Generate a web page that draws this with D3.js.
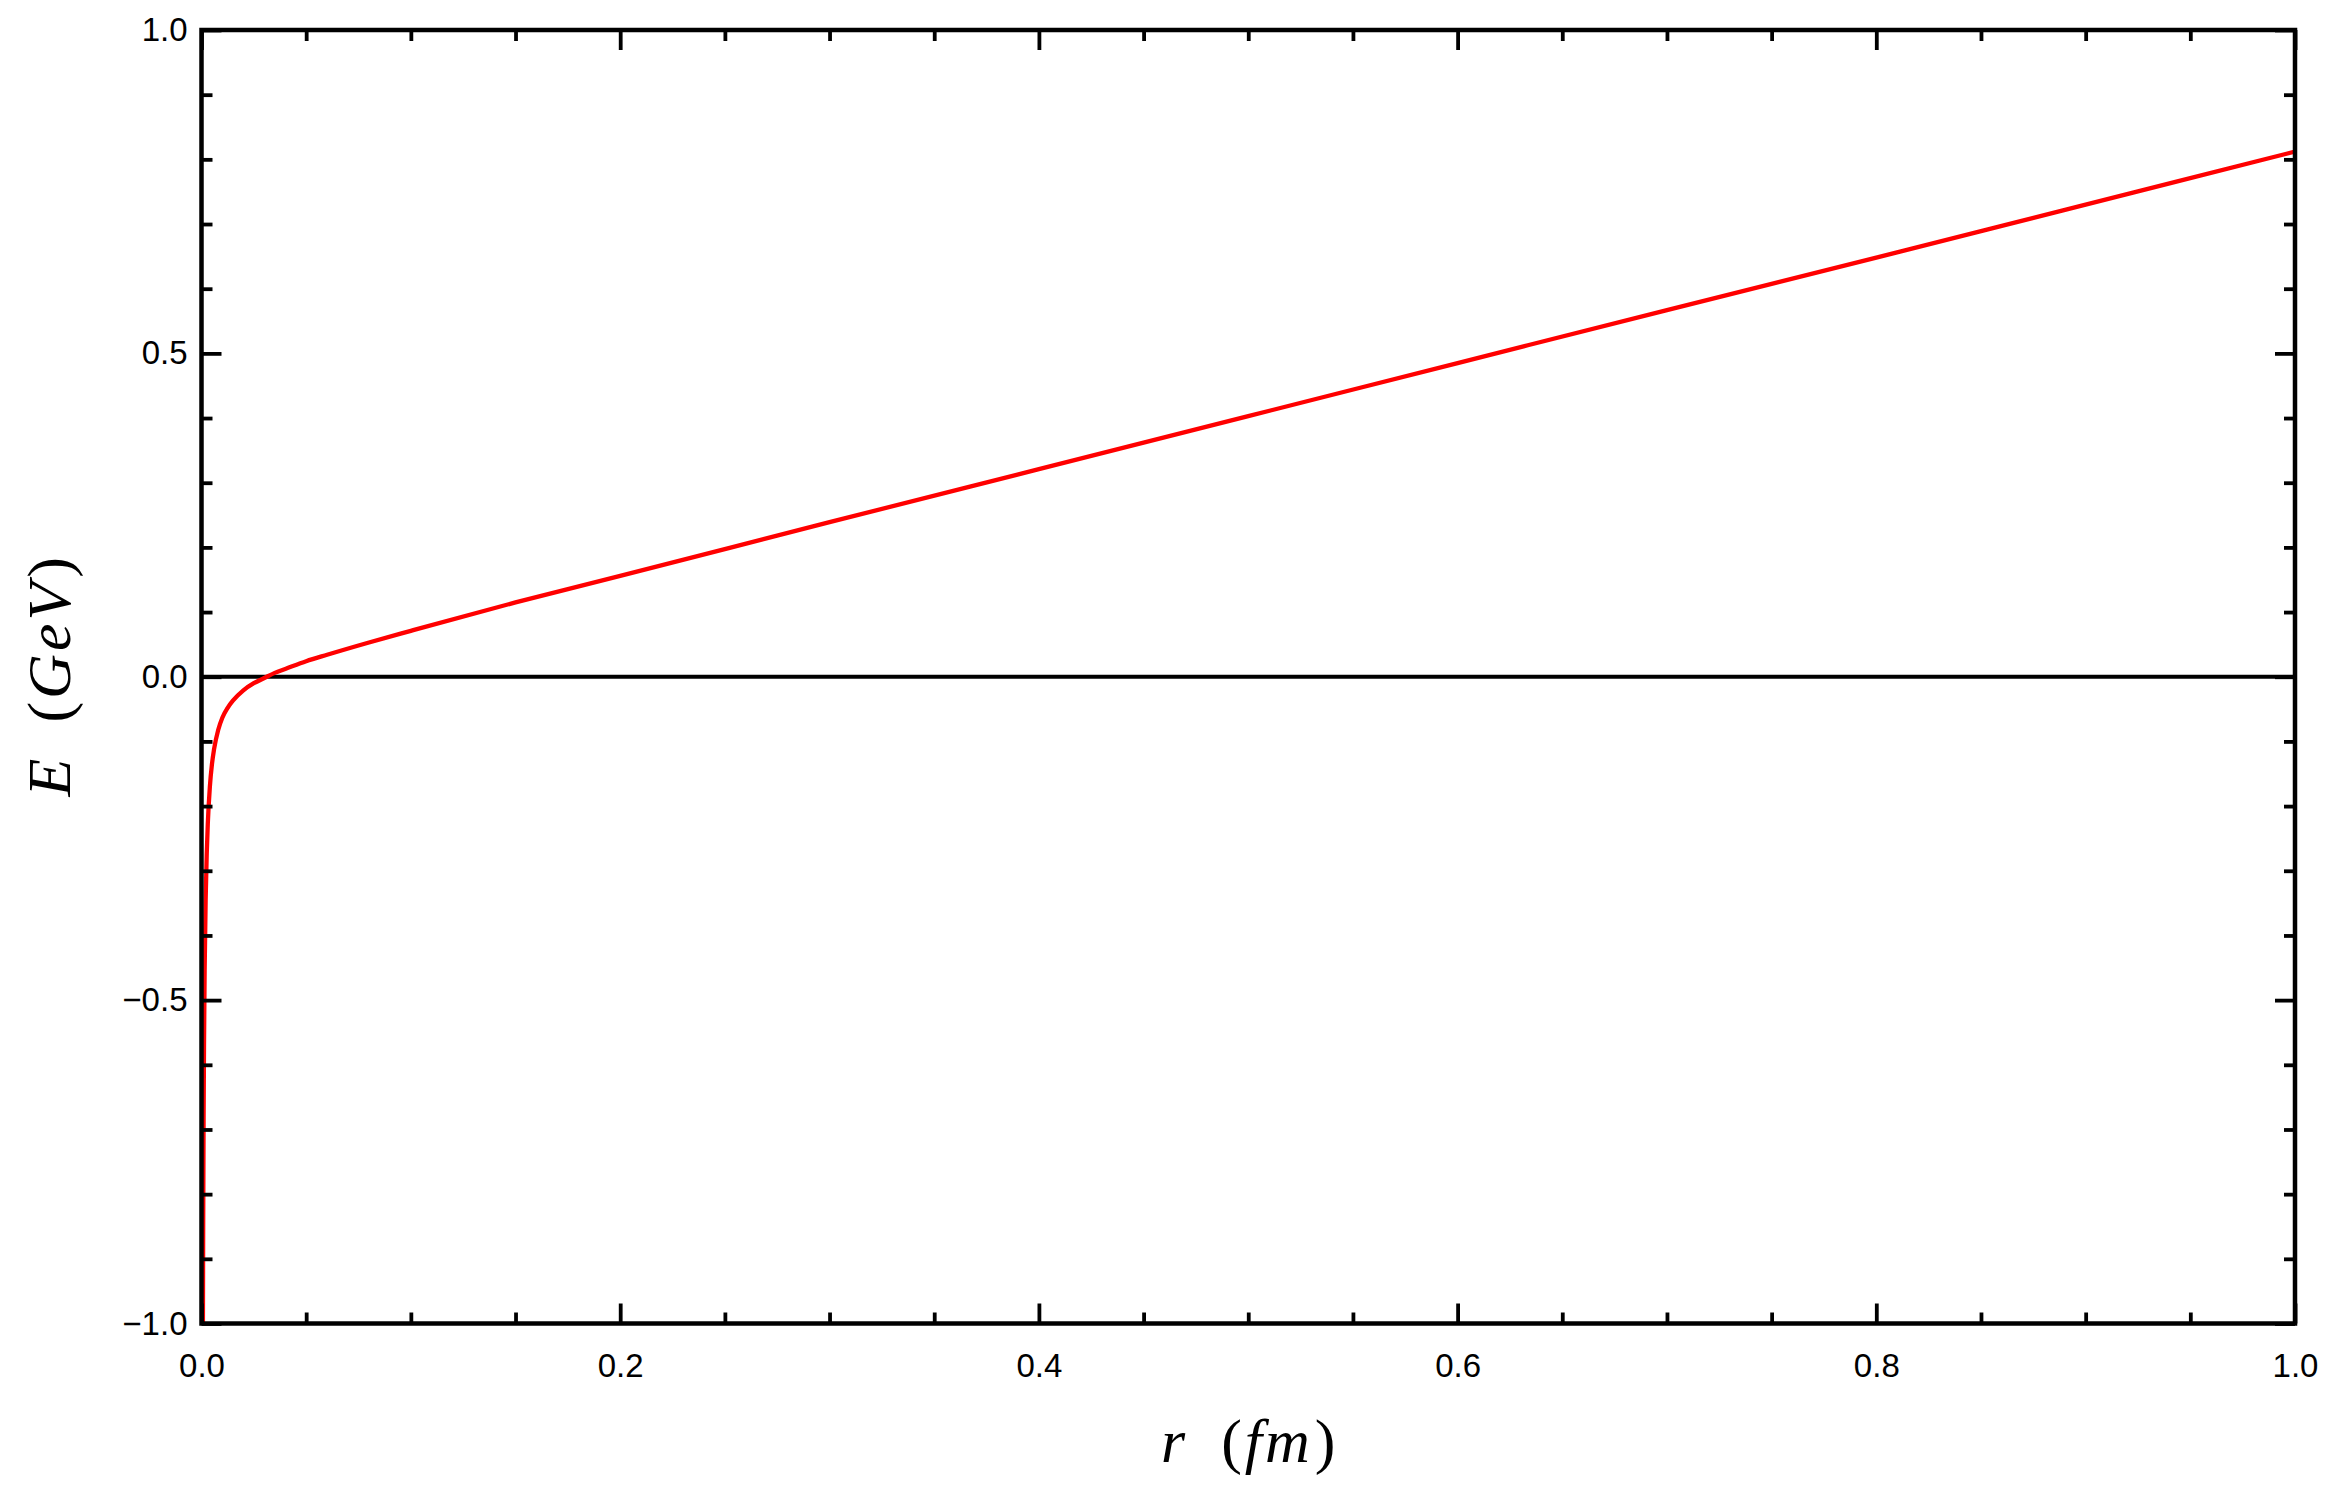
<!DOCTYPE html>
<html>
<head>
<meta charset="utf-8">
<script src="https://cdn.jsdelivr.net/npm/d3@7"></script>
<style>
  html, body { margin: 0; padding: 0; background: #fff; }
  svg { display: block; }
</style>
</head>
<body>
<svg id="chart" width="2331" height="1494"></svg>
<script>
// ---- data ----
const rValues = [0.00068, 0.0008, 0.001, 0.0012, 0.0015, 0.002, 0.0025, 0.003, 0.004, 0.005,
                 0.006, 0.008, 0.010, 0.0125, 0.015, 0.02, 0.025, 0.03, 0.035, 0.04,
                 0.05, 0.06, 0.08, 0.1, 0.15, 0.2, 0.3, 0.4, 0.5, 0.6, 0.7, 0.8, 0.9, 1.0];
const eValues = [-1.0, -0.853, -0.683, -0.569, -0.455, -0.342, -0.274, -0.228, -0.170, -0.135,
                 -0.112, -0.082, -0.063, -0.048, -0.037, -0.021, -0.010, -0.002, 0.006, 0.012,
                 0.024, 0.034, 0.053, 0.071, 0.115, 0.156, 0.239, 0.321, 0.403, 0.485, 0.567, 0.648, 0.730, 0.812];
const xMajorTicks = [0, 0.2, 0.4, 0.6, 0.8, 1.0];
const xTickLabels = ["0.0", "0.2", "0.4", "0.6", "0.8", "1.0"];
const xMinorTicks = d3.range(0, 1.0001, 0.05).filter(v => !xMajorTicks.some(m => Math.abs(m - v) < 1e-9));
const yMajorTicks = [-1.0, -0.5, 0, 0.5, 1.0];
const yTickLabels = ["\u22121.0", "\u22120.5", "0.0", "0.5", "1.0"];
const yMinorTicks = d3.range(-1.0, 1.0001, 0.1).map(v => +v.toFixed(2)).filter(v => !yMajorTicks.some(m => Math.abs(m - v) < 1e-9));
const xTitle = ["r", "(fm)"];
const yTitle = ["E", "(GeV)"];

// ---- layout ----
const L = 201.5, R = 2295, T = 30, B = 1323.5;
const svg = d3.select("#chart");
const x = d3.scaleLinear().domain([0, 1]).range([L, R]);
const y = d3.scaleLinear().domain([-1, 1]).range([B, T]);

svg.append("defs").append("clipPath").attr("id", "plotclip")
  .append("rect").attr("x", L).attr("y", T).attr("width", R - L).attr("height", B - T);

// zero line
svg.append("line").attr("x1", L).attr("x2", R).attr("y1", y(0)).attr("y2", y(0))
  .attr("stroke", "#000").attr("stroke-width", 4);

// curve
const pts = rValues.map((r, i) => [r, eValues[i]]);
svg.append("path").datum(pts)
  .attr("clip-path", "url(#plotclip)")
  .attr("fill", "none").attr("stroke", "#f00").attr("stroke-width", 4.3)
  .attr("stroke-linejoin", "round")
  .attr("d", d3.line().x(d => x(d[0])).y(d => y(d[1])).curve(d3.curveMonotoneX));

// axes with ticks
const tw = 3.8, major = 20, minor = 11;
function styleAxis(g) {
  g.select(".domain").remove();
  g.selectAll(".tick line").attr("stroke", "#000").attr("stroke-width", tw);
  g.selectAll("text").attr("fill", "#000").style("font-family", "'Liberation Sans', Arial, sans-serif").style("font-size", "33px");
}
// bottom
svg.append("g").attr("transform", `translate(0,${B})`)
  .call(d3.axisBottom(x).tickValues(xMajorTicks).tickSize(-major).tickPadding(30).tickFormat((d, i) => xTickLabels[i]))
  .call(styleAxis);
svg.append("g").attr("transform", `translate(0,${B})`)
  .call(d3.axisBottom(x).tickValues(xMinorTicks).tickSize(-minor).tickFormat(""))
  .call(styleAxis);
// top
svg.append("g").attr("transform", `translate(0,${T})`)
  .call(d3.axisTop(x).tickValues(xMajorTicks).tickSize(-major).tickFormat(""))
  .call(styleAxis);
svg.append("g").attr("transform", `translate(0,${T})`)
  .call(d3.axisTop(x).tickValues(xMinorTicks).tickSize(-minor).tickFormat(""))
  .call(styleAxis);
// left
svg.append("g").attr("transform", `translate(${L},0)`)
  .call(d3.axisLeft(y).tickValues(yMajorTicks).tickSize(-major).tickPadding(14).tickFormat((d, i) => yTickLabels[i]))
  .call(styleAxis);
svg.append("g").attr("transform", `translate(${L},0)`)
  .call(d3.axisLeft(y).tickValues(yMinorTicks).tickSize(-minor).tickFormat(""))
  .call(styleAxis);
// right
svg.append("g").attr("transform", `translate(${R},0)`)
  .call(d3.axisRight(y).tickValues(yMajorTicks).tickSize(-major).tickFormat(""))
  .call(styleAxis);
svg.append("g").attr("transform", `translate(${R},0)`)
  .call(d3.axisRight(y).tickValues(yMinorTicks).tickSize(-minor).tickFormat(""))
  .call(styleAxis);

// frame
svg.append("rect").attr("x", L).attr("y", T).attr("width", R - L).attr("height", B - T)
  .attr("fill", "none").attr("stroke", "#000").attr("stroke-width", 4.5);

// titles
const serif = "'Liberation Serif', 'DejaVu Serif', serif";
function title(sel, parts) {
  sel.append("tspan").style("font-style", "italic").text(parts[0]);
  sel.append("tspan").attr("dx", 36).text("(");
  sel.append("tspan").style("font-style", "italic").attr("dx", 3).style("letter-spacing", "3px").text(parts[1].slice(1, -1));
  sel.append("tspan").attr("dx", 2).text(")");
}
const xt = svg.append("text").attr("x", (L + R) / 2).attr("y", 1462)
  .attr("text-anchor", "middle").style("font-family", serif).style("font-size", "62px").attr("fill", "#000");
title(xt, xTitle);

const yt = svg.append("text").attr("transform", `translate(70,${(T + B) / 2}) rotate(-90)`)
  .attr("text-anchor", "middle").style("font-family", serif).style("font-size", "62px").attr("fill", "#000");
title(yt, yTitle);
</script>
</body>
</html>
